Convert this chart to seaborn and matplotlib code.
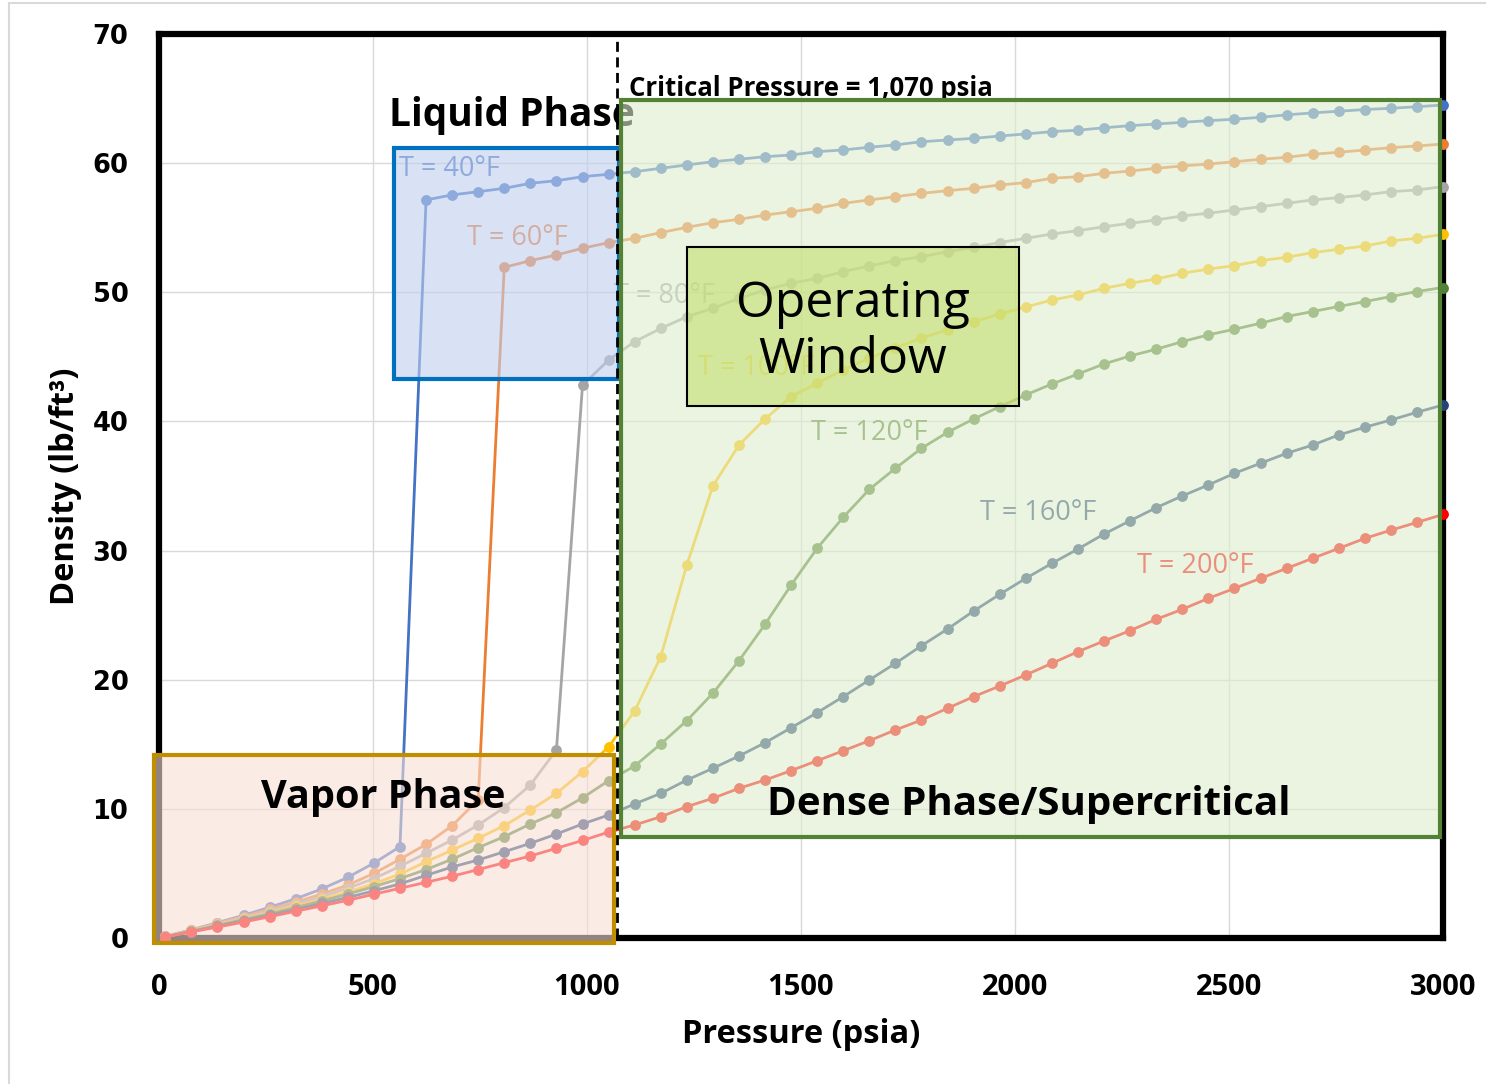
import matplotlib
matplotlib.use('Agg')
import matplotlib.pyplot as plt
import seaborn as sns
import pandas as pd
from matplotlib.patches import Rectangle
from matplotlib.colors import to_rgba

# pressure grid (psia)
pressure = [14.7, 75.6, 136.6, 197.5, 258.4, 319.3, 380.3, 441.2, 502.1, 563.0,
            624.0, 684.9, 745.8, 806.7, 867.7, 928.6, 989.5, 1050.4, 1111.4, 1172.3,
            1233.2, 1294.1, 1355.1, 1416.0, 1476.9, 1537.8, 1598.8, 1659.7, 1720.6, 1781.5,
            1842.5, 1903.4, 1964.3, 2025.2, 2086.2, 2147.1, 2208.0, 2268.9, 2329.9, 2390.8,
            2451.7, 2512.6, 2573.6, 2634.5, 2695.4, 2756.3, 2817.3, 2878.2, 2939.1, 3000.0]

# density (lb/ft3) per temperature
rho_40 = [0.12, 0.64, 1.19, 1.76, 2.38, 3.04, 3.80, 4.70, 5.80, 7.07,
          57.15, 57.54, 57.79, 58.05, 58.44, 58.64, 58.95, 59.14,
          59.34, 59.60, 59.86, 60.11, 60.30, 60.50, 60.63, 60.89, 61.02, 61.23, 61.41, 61.66,
          61.79, 61.92, 62.10, 62.26,
          62.44, 62.55, 62.74, 62.90, 63.03, 63.16, 63.29, 63.40, 63.55, 63.74, 63.89, 64.02,
          64.15, 64.25, 64.37, 64.50]
rho_60 = [0.12, 0.62, 1.13, 1.66, 2.21, 2.78, 3.40, 4.10, 5.00, 6.10, 7.25, 8.70, 10.70,
          51.93, 52.45, 52.89, 53.41, 53.84,
          54.18, 54.62, 55.03, 55.39, 55.65, 55.98, 56.24, 56.50, 56.89, 57.15, 57.40, 57.66,
          57.87, 58.05, 58.31, 58.49,
          58.83, 58.95, 59.21, 59.39, 59.60, 59.78, 59.93, 60.11, 60.30, 60.45, 60.69, 60.84,
          61.02, 61.20, 61.33, 61.48]
rho_80 = [0.11, 0.58, 1.06, 1.56, 2.08, 2.62, 3.20, 3.85, 4.60, 5.55, 6.56, 7.59, 8.75,
          10.10, 11.85, 14.56,
          42.80, 44.76,
          46.18, 47.20, 48.11, 48.76, 49.53, 50.18, 50.70, 51.08, 51.60, 52.04, 52.45, 52.76,
          53.14, 53.48, 53.85, 54.18,
          54.51, 54.77, 55.08, 55.34, 55.60, 55.91, 56.12, 56.37, 56.63, 56.89, 57.15, 57.33,
          57.54, 57.79, 57.92, 58.18]
rho_100 = [0.11, 0.56, 1.01, 1.48, 1.96, 2.46, 3.00, 3.56, 4.20, 4.95, 5.90, 6.81, 7.72,
           8.70, 9.91, 11.20, 12.88, 14.80,
           17.58, 21.78, 28.88, 35.00, 38.17, 40.19, 41.92, 42.95, 44.00, 44.90, 45.70, 46.45,
           47.10, 47.72, 48.32, 48.86,
           49.40, 49.79, 50.31, 50.70, 51.03, 51.47, 51.80, 52.06, 52.45, 52.71, 53.07, 53.33,
           53.58, 53.97, 54.18, 54.49]
rho_120 = [0.10, 0.54, 0.98, 1.43, 1.88, 2.36, 2.87, 3.40, 3.98, 4.60, 5.30, 6.10, 7.00,
           7.85, 8.83, 9.70, 10.85, 12.18,
           13.32, 15.02, 16.83, 18.95, 21.47, 24.29, 27.33, 30.18, 32.58, 34.74, 36.37, 37.92,
           39.16, 40.19, 41.14, 42.05,
           42.90, 43.67, 44.45, 45.07, 45.59, 46.18, 46.70, 47.14, 47.60, 48.12, 48.51, 48.90,
           49.28, 49.67, 50.06, 50.37]
rho_160 = [0.10, 0.50, 0.91, 1.33, 1.76, 2.20, 2.68, 3.14, 3.65, 4.19, 4.85, 5.50, 6.04,
           6.68, 7.33, 8.05, 8.83, 9.52,
           10.38, 11.20, 12.23, 13.14, 14.09, 15.12, 16.28, 17.45, 18.69, 19.98, 21.27, 22.63,
           23.93, 25.32, 26.61, 27.85,
           29.01, 30.12, 31.28, 32.31, 33.32, 34.23, 35.08, 35.98, 36.76, 37.53, 38.17, 38.95,
           39.55, 40.11, 40.71, 41.27]
rho_200 = [0.09, 0.47, 0.85, 1.23, 1.65, 2.07, 2.49, 2.92, 3.39, 3.85, 4.31, 4.78, 5.30,
           5.83, 6.35, 6.95, 7.55, 8.20,
           8.75, 9.39, 10.17, 10.82, 11.59, 12.23, 12.96, 13.73, 14.50, 15.28, 16.11, 16.88,
           17.79, 18.69, 19.51, 20.37,
           21.27, 22.17, 23.00, 23.80, 24.68, 25.45, 26.30, 27.07, 27.85, 28.62, 29.40, 30.17,
           30.94, 31.58, 32.18, 32.80]

temps = ["T = 40°F", "T = 60°F", "T = 80°F", "T = 100°F", "T = 120°F", "T = 160°F", "T = 200°F"]
series = [rho_40, rho_60, rho_80, rho_100, rho_120, rho_160, rho_200]
colors = ["#4472C4", "#ED7D31", "#A5A5A5", "#FFC000", "#548235", "#264478", "#FF0000"]
# label anchor (left, baseline) in data units
label_pos = [(561, 58.97), (719, 53.66), (1063, 49.15), (1259, 43.6),
             (1524, 38.6), (1918, 32.37), (2285, 28.24)]

df = pd.concat([pd.DataFrame({"Pressure": pressure, "Density": rho, "Temp": t})
                for t, rho in zip(temps, series)], ignore_index=True)

sns.set_theme(style="whitegrid")
plt.rcParams['font.family'] = ['Open Sans', 'DejaVu Sans']

fig = plt.figure(figsize=(14.86, 10.84), dpi=100)
ax = fig.add_axes([159 / 1486, 1 - 938 / 1084, 1284 / 1486, 904 / 1084])
ax.set_facecolor("white")

sns.lineplot(data=df, x="Pressure", y="Density", hue="Temp", palette=dict(zip(temps, colors)),
             marker="o", markersize=7.8, markeredgewidth=0, linewidth=2, sort=False,
             estimator=None, legend=False, ax=ax, zorder=2.6, clip_on=False)

ax.set_xlim(0, 3000)
ax.set_ylim(0, 70)
ax.set_xticks(range(0, 3001, 500))
ax.set_yticks(range(0, 71, 10))
ax.grid(True, color="#D9D9D9", linewidth=1)
for s in ax.spines.values():
    s.set_visible(True)
    s.set_color("black")
    s.set_linewidth(4.5)
ax.tick_params(direction="in", length=5, width=4, color="black", labelcolor="black")
ax.tick_params(axis="x", pad=25, labelsize=21)
ax.tick_params(axis="y", pad=22, labelsize=18.5)
for lbl in ax.get_xticklabels():
    lbl.set_fontweight("bold")
for lbl in ax.get_yticklabels():
    lbl.set_fontfamily("DejaVu Sans")
    lbl.set_fontweight("bold")

ax.set_xlabel("Pressure (psia)", fontsize=23.5, fontweight="bold", color="black")
ax.set_ylabel("Density (lb/ft³)", fontsize=23.5, fontweight="bold", color="black")
ax.xaxis.set_label_coords(0.5, -0.088)
ax.yaxis.set_label_coords(-0.06, 0.5)

# curve labels (sit under the translucent region boxes)
for t, c, (x, y) in zip(temps, colors, label_pos):
    ax.text(x, y, t, color=c, fontsize=19.5, ha="left", va="baseline", zorder=2.7)

ax.text(537, 62.88, "Liquid Phase", fontsize=28, fontweight="bold", ha="left", va="baseline",
        color="black", zorder=2.7)
ax.text(1098, 65.2, "Critical Pressure = 1,070 psia", fontsize=18.5, fontweight="bold",
        ha="left", va="baseline", color="black", zorder=2.7)

# region boxes
boxes = [
    ((-12, -0.35), 1076, 14.5, "#F7DED5", "#BF8F00"),   # vapor
    ((548.6, 43.3), 526.6, 17.9, "#C1D0EE", "#0070C0"),  # liquid
    ((1080, 7.82), 1912, 57.07, "#DFEECD", "#548235"),   # dense phase
]
for xy, w, h, fc, ec in boxes:
    ax.add_patch(Rectangle(xy, w, h, facecolor=to_rgba(fc, 0.6), edgecolor=ec,
                           linewidth=3, zorder=3, clip_on=False))
ax.add_patch(Rectangle((1234.5, 41.2), 774.5, 12.3, facecolor=to_rgba("#C4DF6E", 0.6),
                       edgecolor="black", linewidth=1.5, zorder=4))

ax.axvline(1070, color="black", linestyle=(0, (3.6, 2)), linewidth=2, zorder=5)

ax.text(524, 10.04, "Vapor Phase", fontsize=28.5, fontweight="bold", ha="center",
        va="baseline", color="black", zorder=6)
ax.text(2032, 9.52, "Dense Phase/Supercritical", fontsize=29, fontweight="bold", ha="center",
        va="baseline", color="black", zorder=6)
ax.text(1621, 48.11, "Operating", fontsize=36, ha="center", va="baseline", color="black", zorder=6)
ax.text(1621, 43.73, "Window", fontsize=36, ha="center", va="baseline", color="black", zorder=6)

# chart area border
fig.patches.append(Rectangle((9 / 1486, -0.1), 1.2, 1.1 - 3 / 1084, transform=fig.transFigure,
                             fill=False, edgecolor="#D9D9D9", linewidth=1.5))

fig.savefig("out.png", dpi=100)
